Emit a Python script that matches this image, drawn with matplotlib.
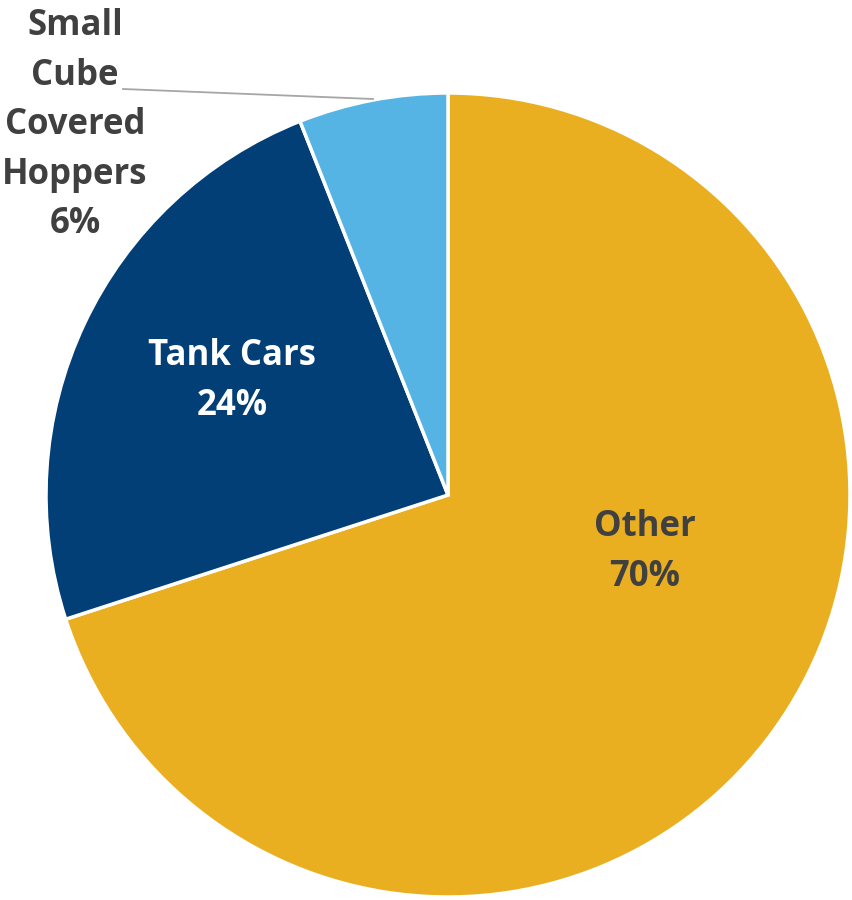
import matplotlib
matplotlib.use('Agg')
import matplotlib.pyplot as plt

# data
categories = ["Other", "Tank Cars", "Small\nCube\nCovered\nHoppers"]
shares = [70, 24, 6]
colors = ["#E9AF20", "#023F77", "#56B4E4"]
label_colors = ["#404040", "#FFFFFF", "#404040"]

W, H = 853, 900
plt.rcParams['font.family'] = ['Open Sans', 'DejaVu Sans']

fig = plt.figure(figsize=(W / 100, H / 100), dpi=100)
ax = fig.add_axes([0, 0, 1, 1])

# pixel-based layout (y measured from bottom)
cx, cy, r = 448, H - 495, 402
wedges, _ = ax.pie(shares, colors=colors, startangle=90, counterclock=False,
                   center=(cx, cy), radius=r,
                   wedgeprops=dict(edgecolor='white', linewidth=2.5))

ax.set_xlim(0, W)
ax.set_ylim(0, H)
ax.set_aspect('equal')
ax.axis('off')

fs = 25
# label positions in pixels from top-left
label_pos = [(645, 552), (232, 381), (75, 125)]
for name, pct, col, (x, y) in zip(categories, shares, label_colors, label_pos):
    ax.text(x, H - y, f"{name}\n{pct}%", ha='center', va='center', color=col,
            fontsize=fs, fontweight='bold', linespacing=1.5)

# leader line for the small slice
ax.plot([123, 373], [H - 89, H - 99], color='#A6A6A6', linewidth=1.3)

fig.savefig('out.png', dpi=100)
